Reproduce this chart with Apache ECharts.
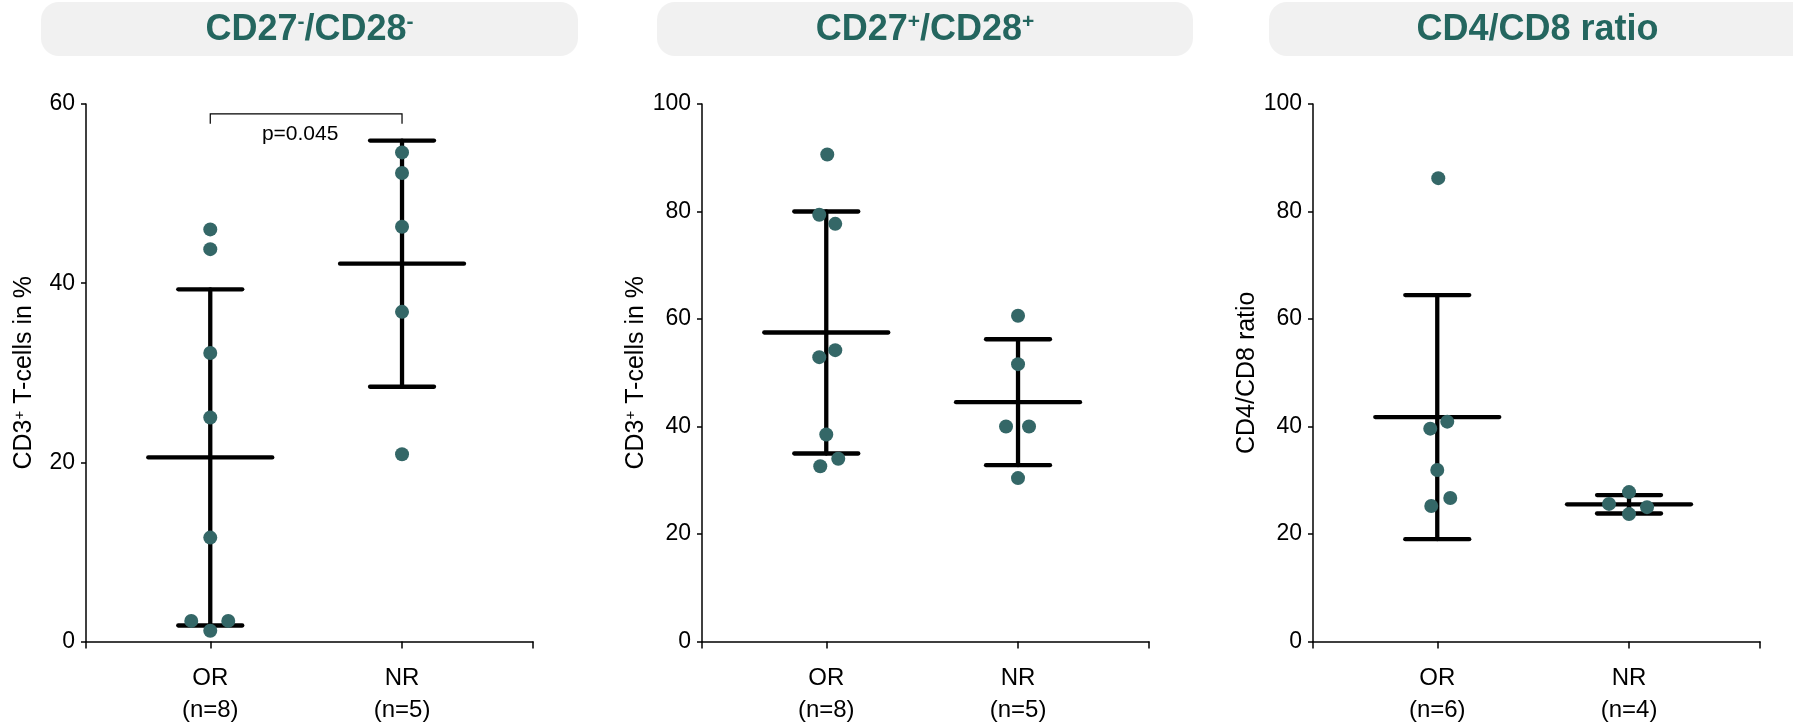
<!DOCTYPE html>
<html><head><meta charset="utf-8">
<script src="https://cdn.jsdelivr.net/npm/echarts@6/dist/echarts.min.js"></script>
<style>html,body{margin:0;padding:0;background:#fff}#c{width:1793px;height:728px}</style>
</head><body><div id="c"></div>
<script>
// ---------- data ----------
const panelTitles = ['CD27{sup|-}/CD28{sup|-}', 'CD27{sup|+}/CD28{sup|+}', 'CD4/CD8 ratio'];
const yAxisNames = ['CD3{sup|+} T-cells in %', 'CD3{sup|+} T-cells in %', 'CD4/CD8 ratio'];
const groups = ['OR', 'NR'];
const yMaxes = [60, 100, 100];
const yStep = 20;

const cd27negOR = [46.0, 43.8, 32.2, 25.0, 11.6, 2.3, 2.3, 1.2];
const cd27negNR = [54.6, 52.3, 46.3, 36.8, 20.9];
const cd27posOR = [90.6, 79.4, 77.7, 54.2, 52.9, 38.5, 34.0, 32.6];
const cd27posNR = [60.6, 51.6, 40.0, 40.0, 30.4];
const ratioOR = [86.2, 40.9, 39.6, 31.9, 26.7, 25.2];
const ratioNR = [27.8, 25.6, 25.0, 23.7];

const pValueText = 'p=0.045';
const bracketLevel = 58.9;

// ---------- layout / style ----------
const panelData = [[cd27negOR, cd27negNR], [cd27posOR, cd27posNR], [ratioOR, ratioNR]];
const jitterPx = [
  [[0, 0, 0, 0, 0, -19, 18, 0], [0, 0, 0, 0, 0]],
  [[1, -7, 9, 9, -7, 0, 12, -6], [0, 0, -12, 11, 0]],
  [[1, 10, -7, 0, 13, -6], [0, -20, 18, 0]]
];
const gridLefts = [86, 702, 1313];
const gridTop = 104, gridH = 537.5, gridW = 447;
const xMin = 0.352, xMax = 2.683;
const boxes = [[41, 2, 537, 54], [657, 2, 536, 54], [1269, 2, 545, 54]];
const FONT = '"Liberation Sans", Arial, Helvetica, sans-serif';
const DOT = '#346767';
const TITLE_C = '#24665f';

function mean(a) { return a.reduce((s, v) => s + v, 0) / a.length; }
function sd(a) { const m = mean(a); return Math.sqrt(a.reduce((s, v) => s + (v - m) * (v - m), 0) / (a.length - 1)); }

const grid = [], xAxis = [], yAxis = [], series = [], graphic = [];

panelData.forEach((pd, i) => {
  grid.push({ left: gridLefts[i], top: gridTop, width: gridW, height: gridH });
  xAxis.push({
    type: 'value', gridIndex: i, min: xMin, max: xMax,
    splitLine: { show: false },
    axisLine: { show: true, onZero: false, lineStyle: { color: '#000', width: 1.5 } },
    axisTick: { show: true, length: 7, customValues: [xMin, 1, 2, xMax], lineStyle: { color: '#000', width: 1.5 } },
    axisLabel: {
      customValues: [1, 2], margin: 21, fontSize: 24, lineHeight: 32, color: '#000', fontFamily: FONT,
      formatter: (v) => { const g = Math.round(v) - 1; return groups[g] + '\n(n=' + pd[g].length + ')'; }
    }
  });
  yAxis.push({
    type: 'value', gridIndex: i, min: 0, max: yMaxes[i], interval: yStep,
    splitLine: { show: false },
    axisLine: { show: true, lineStyle: { color: '#000', width: 1.5 } },
    axisTick: { show: true, length: 5, lineStyle: { color: '#000', width: 1.5 } },
    axisLabel: { fontSize: 23, color: '#000', margin: 11, fontFamily: FONT },
    name: yAxisNames[i], nameLocation: 'middle', nameRotate: 90, nameGap: 49,
    nameTextStyle: {
      fontSize: 25, color: '#000', fontFamily: FONT,
      rich: { sup: { fontSize: 15, color: '#000', fontFamily: FONT, verticalAlign: 'top', padding: [0, 0, 7, 0] } }
    }
  });
  // error bars (mean ± SD)
  series.push({
    type: 'custom', xAxisIndex: i, yAxisIndex: i, z: 2, silent: true,
    data: pd.map((vals, g) => [g + 1, mean(vals), sd(vals)]),
    renderItem: (params, api) => {
      const x = api.value(0), m = api.value(1), s = api.value(2);
      const pm = api.coord([x, m]), pt = api.coord([x, m + s]), pb = api.coord([x, m - s]);
      const st = { stroke: '#000', lineWidth: 4.3, lineCap: 'round' };
      return { type: 'group', children: [
        { type: 'line', shape: { x1: pm[0] - 62, y1: pm[1], x2: pm[0] + 62, y2: pm[1] }, style: st },
        { type: 'line', shape: { x1: pt[0], y1: pt[1], x2: pb[0], y2: pb[1] }, style: st },
        { type: 'line', shape: { x1: pt[0] - 32, y1: pt[1], x2: pt[0] + 32, y2: pt[1] }, style: st },
        { type: 'line', shape: { x1: pb[0] - 32, y1: pb[1], x2: pb[0] + 32, y2: pb[1] }, style: st }
      ] };
    }
  });
  // dots
  series.push({
    type: 'scatter', xAxisIndex: i, yAxisIndex: i, z: 3, symbol: 'circle', symbolSize: 14,
    itemStyle: { color: DOT, opacity: 1 },
    data: pd.flatMap((vals, g) => vals.map((v, k) => ({ value: [g + 1, v], symbolOffset: [jitterPx[i][g][k], 0] })))
  });
  // title boxes
  const b = boxes[i];
  graphic.push({ type: 'rect', z: -10, shape: { x: b[0], y: b[1], width: b[2], height: b[3], r: 18 }, style: { fill: '#f1f1f1' } });
  graphic.push({
    type: 'text', x: b[0] + b[2] / 2 - (i === 2 ? 4 : 0), y: b[1] + b[3] / 2 + 1, z: 10,
    style: {
      text: panelTitles[i], align: 'center', verticalAlign: 'middle',
      fontSize: 36, fontWeight: 'bold', fontFamily: FONT, fill: TITLE_C,
      rich: { sup: { fontSize: 21, fontWeight: 'bold', fontFamily: FONT, fill: TITLE_C, verticalAlign: 'top', padding: [0, 0, 10, 0] } }
    }
  });
});

// significance bracket on panel 1
series.push({
  type: 'custom', xAxisIndex: 0, yAxisIndex: 0, z: 4, silent: true,
  data: [[1, 2, bracketLevel]],
  renderItem: (params, api) => {
    const a = api.coord([api.value(0), api.value(2)]);
    const c = api.coord([api.value(1), api.value(2)]);
    return { type: 'group', children: [
      { type: 'polyline', shape: { points: [[a[0], a[1] + 10], [a[0], a[1]], [c[0], c[1]], [c[0], c[1] + 10]] },
        style: { stroke: '#000', lineWidth: 1.2, fill: null } },
      { type: 'text', x: (a[0] + c[0]) / 2 - 6, y: a[1] + 20,
        style: { text: pValueText, align: 'center', verticalAlign: 'middle', fontSize: 21, fontFamily: FONT, fill: '#000' } }
    ] };
  }
});

const chart = echarts.init(document.getElementById('c'), null, { renderer: 'canvas' });
chart.setOption({ animation: false, backgroundColor: '#fff', grid, xAxis, yAxis, series, graphic });
</script>
</body></html>
